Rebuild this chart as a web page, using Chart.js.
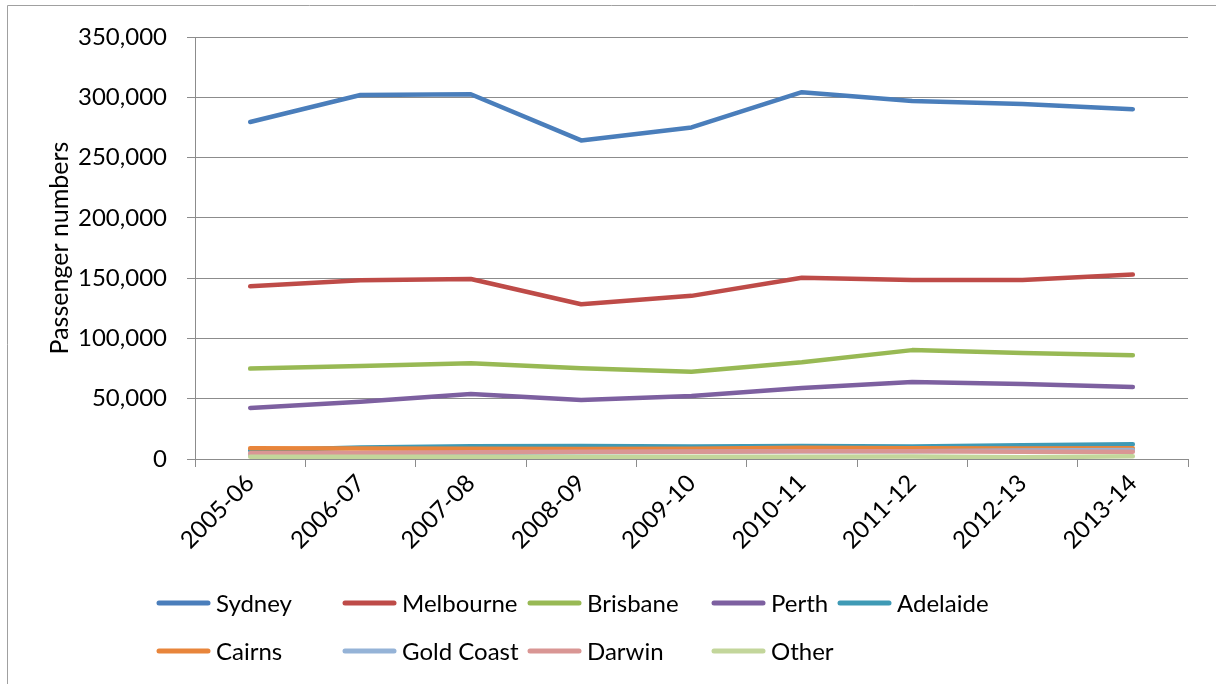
<!DOCTYPE html>
<html>
<head>
<meta charset="utf-8">
<title>Passenger numbers</title>
<script src="https://cdn.jsdelivr.net/npm/chart.js@4.4.1/dist/chart.umd.min.js"></script>
<style>
  html, body { margin: 0; padding: 0; background: #fff; }
  #wrap { position: relative; width: 1216px; height: 684px; }
</style>
</head>
<body>
<div id="wrap"><canvas id="chart" width="1216" height="684"></canvas></div>
<script>
// ── Data ──────────────────────────────────────────────────

const years = ["2005-06", "2006-07", "2007-08", "2008-09", "2009-10", "2010-11", "2011-12", "2012-13", "2013-14"];

const sydney    = [279500, 301900, 302500, 264200, 275000, 304200, 296900, 294400, 290100];
const melbourne = [143200, 148300, 149300, 128400, 135300, 150300, 148500, 148500, 153000];
const brisbane  = [75000, 77200, 79500, 75300, 72300, 80200, 90300, 87900, 86000];
const perth     = [42300, 47400, 54000, 48900, 52200, 58900, 63900, 62200, 59700];
const adelaide  = [7000, 9500, 10500, 10800, 10300, 10800, 10300, 11500, 12300];
const cairns    = [8900, 8800, 8600, 8300, 8600, 9300, 9000, 8800, 8900];
const goldCoast = [3000, 4000, 5000, 5500, 6000, 6500, 6500, 7000, 7500];
const darwin    = [4700, 5000, 5500, 6000, 6000, 6500, 6500, 6000, 6000];
const other     = [1900, 1900, 1900, 1900, 1900, 1900, 2000, 1500, 2200];

const FONT_FAMILY = "Lato, 'Open Sans', sans-serif";
const FONT_SIZE = 24;
const AXIS_GREY = "#8c8c8c";

// ── Series ────────────────────────────────────────────────

const series = [
  { label: "Sydney",     data: sydney,    color: "#4a7ebb" },
  { label: "Melbourne",  data: melbourne, color: "#be4b48" },
  { label: "Brisbane",   data: brisbane,  color: "#98b954" },
  { label: "Perth",      data: perth,     color: "#7d60a0" },
  { label: "Adelaide",   data: adelaide,  color: "#3f9ab5" },
  { label: "Cairns",     data: cairns,    color: "#e8853b" },
  { label: "Gold Coast", data: goldCoast, color: "#95b3d7" },
  { label: "Darwin",     data: darwin,    color: "#d99694" },
  { label: "Other",      data: other,     color: "#c3d69b" }
];

// later series are painted on top of earlier ones
const datasets = series.map((s, i) => ({
  label: s.label,
  data: s.data,
  borderColor: s.color,
  backgroundColor: s.color,
  borderWidth: 4.5,
  borderCapStyle: "round",
  borderJoinStyle: "round",
  pointRadius: 0,
  pointHoverRadius: 0,
  tension: 0,
  fill: false,
  order: series.length - i
}));

// ── Plugins ───────────────────────────────────────────────

// legend laid out in fixed columns, two rows
const legendCols = [157, 343, 528, 712, 838];
const legendRows = [603, 651];

const gridLegend = {
  id: "gridLegend",
  afterDraw(chart) {
    const ctx = chart.ctx;
    ctx.save();
    ctx.font = `${FONT_SIZE}px ${FONT_FAMILY}`;
    ctx.textBaseline = "middle";
    ctx.textAlign = "left";
    chart.data.datasets.forEach((ds, i) => {
      const x = legendCols[i % legendCols.length];
      const y = legendRows[Math.floor(i / legendCols.length)];
      ctx.strokeStyle = ds.borderColor;
      ctx.lineWidth = 5;
      ctx.lineCap = "round";
      ctx.beginPath();
      ctx.moveTo(x + 2, y);
      ctx.lineTo(x + 51, y);
      ctx.stroke();
      ctx.fillStyle = "#000";
      ctx.fillText(ds.label, x + 59, y + 1);
    });
    ctx.restore();
  }
};

// thin outer frame along the top and left edges
const outerFrame = {
  id: "outerFrame",
  beforeDraw(chart) {
    const ctx = chart.ctx;
    ctx.save();
    ctx.strokeStyle = "#a0a0a0";
    ctx.lineWidth = 1;
    ctx.beginPath();
    ctx.moveTo(7.5, chart.height);
    ctx.lineTo(7.5, 5.5);
    ctx.lineTo(chart.width, 5.5);
    ctx.stroke();
    ctx.restore();
  }
};

// ── Chart ─────────────────────────────────────────────────

Chart.defaults.font.family = FONT_FAMILY;
Chart.defaults.font.size = FONT_SIZE;
Chart.defaults.color = "#000";

new Chart(document.getElementById("chart"), {
  type: "line",
  data: { labels: years, datasets },
  options: {
    responsive: false,
    animation: false,
    layout: { padding: { left: 0, top: 37, right: 28, bottom: 0 } },
    plugins: {
      legend: { display: false },
      tooltip: { enabled: false }
    },
    scales: {
      x: {
        offset: true,
        grid: {
          offset: true,
          drawOnChartArea: false,
          drawTicks: true,
          tickLength: 8,
          color: AXIS_GREY
        },
        border: { display: true, color: AXIS_GREY, width: 1 },
        ticks: {
          maxRotation: 45,
          minRotation: 45,
          autoSkip: false,
          padding: 2
        },
        afterFit(scale) { scale.height = 684 - 459; }
      },
      y: {
        min: 0,
        max: 350000,
        grid: {
          color: AXIS_GREY,
          tickLength: 8,
          drawTicks: true
        },
        border: { display: true, color: AXIS_GREY, width: 1 },
        ticks: {
          stepSize: 50000,
          padding: 20,
          callback: v => v.toLocaleString("en-US")
        },
        title: {
          display: true,
          text: "Passenger numbers",
          padding: { top: 45, bottom: 0 },
          font: { size: 25 }
        },
        afterFit(scale) { scale.width = 195; }
      }
    }
  },
  plugins: [outerFrame, gridLegend]
});
</script>
</body>
</html>
